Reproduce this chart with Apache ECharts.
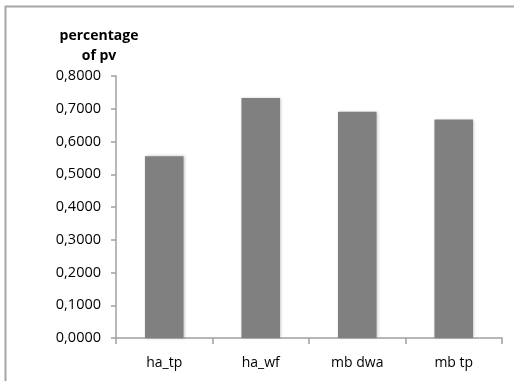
<!DOCTYPE html>
<html><head><meta charset="utf-8">
<script src="https://cdn.jsdelivr.net/npm/echarts@6/dist/echarts.min.js"></script>
<style>html,body{margin:0;padding:0;background:#fff}#c{width:514px;height:381px}</style>
</head><body><div id="c"></div>
<script>
var categories = ['ha_tp', 'ha_wf', 'mb dwa', 'mb tp'];
var values = [0.555, 0.733, 0.691, 0.667];
var yTicks = [0, 0.1, 0.2, 0.3, 0.4, 0.5, 0.6, 0.7, 0.8];

var chart = echarts.init(document.getElementById('c'));
chart.setOption({
  animation: false,
  backgroundColor: '#ffffff',
  graphic: [{
    type: 'rect', shape: { x: 5.5, y: 6.5, width: 700, height: 600 },
    style: { fill: 'none', stroke: '#a6a6a6', lineWidth: 2 }
  }],
  title: {
    text: 'percentage\nof pv', left: 94, top: 21, textAlign: 'center',
    textStyle: { fontFamily: 'Open Sans', fontWeight: 'bold', fontSize: 14, lineHeight: 20, color: '#000' }
  },
  grid: { left: 116, right: 12, top: 76, bottom: 43, containLabel: false },
  xAxis: {
    type: 'category', data: categories,
    axisLine: { lineStyle: { color: '#a0a0a0', width: 1.5 } },
    axisTick: { show: true, length: 6, lineStyle: { color: '#a0a0a0', width: 1.5 } },
    axisLabel: { fontFamily: 'Open Sans', fontSize: 14, color: '#000', margin: 18 }
  },
  yAxis: {
    type: 'value', min: 0, max: 0.8, interval: 0.1,
    splitLine: { show: false },
    axisLine: { show: true, lineStyle: { color: '#a0a0a0', width: 1.5 } },
    axisTick: { show: true, length: 5, lineStyle: { color: '#a0a0a0', width: 1.5 } },
    axisLabel: {
      fontFamily: 'Open Sans', fontSize: 14.5, color: '#000', margin: 15,
      formatter: function (v) { return v.toFixed(4).replace('.', ','); }
    }
  },
  series: [{
    type: 'bar', data: values, barWidth: '40%',
    itemStyle: { color: '#808080', shadowColor: 'rgba(0,0,0,0.25)', shadowBlur: 3, shadowOffsetX: 1, shadowOffsetY: 0 }
  }]
});
</script></body></html>
